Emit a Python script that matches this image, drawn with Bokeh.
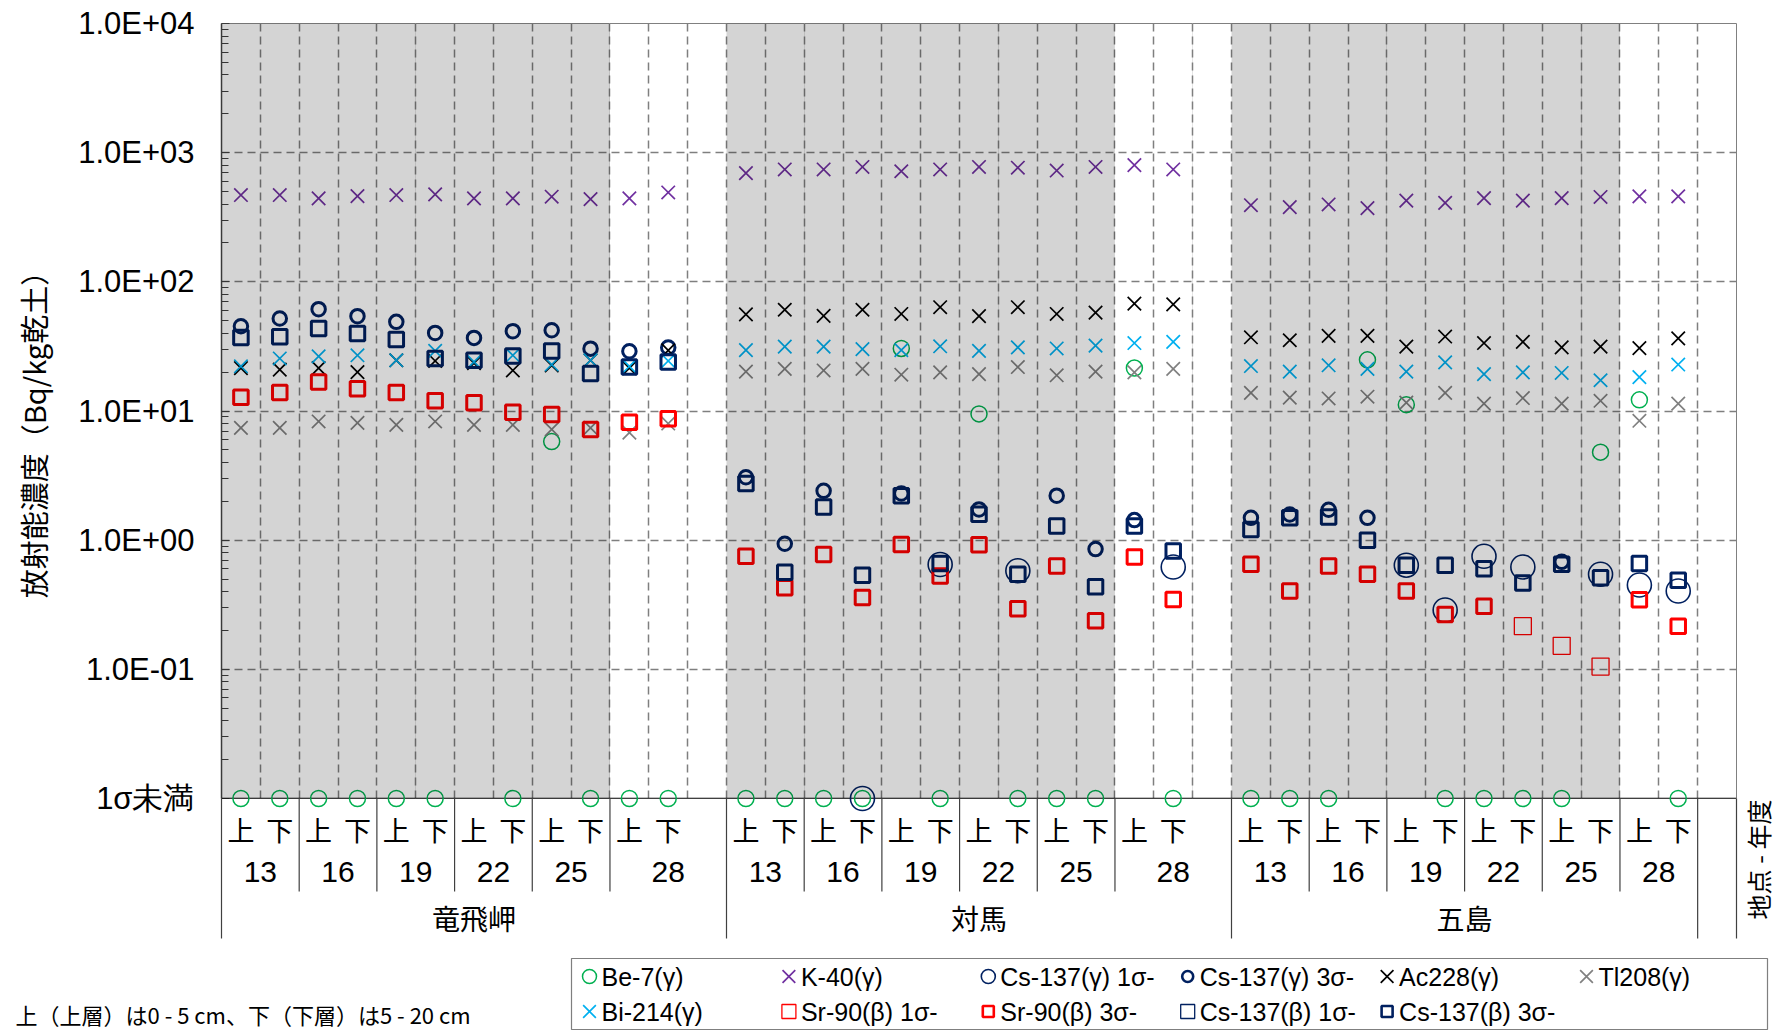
import math
from bokeh.plotting import figure
from bokeh.layouts import column
from bokeh.models import (Range1d, FixedTicker, CustomJSTickFormatter, Grid, Span, LinearScale)
from bokeh.core.properties import value
from bokeh.embed import file_html
from bokeh.resources import INLINE

ND = "ND"   # below 1 sigma -> drawn on the "1σ未満" row

locations = ["竜飛岬", "対馬", "五島"]
years = ["13", "16", "19", "22", "25", "28"]
layers = ["上", "下"]
shaded_years = ["13", "16", "19", "22", "25"]

# ---- values, 12 per location: 13上,13下,16上,16下,...,28上,28下 ----
be7_tappi = [ND, ND, ND, ND, ND, ND, None, ND, 5.8, ND, ND, ND]
be7_tsushima = [ND, ND, ND, ND, 30.5, ND, 9.5, ND, ND, ND, 21.5, ND]
be7_goto = [ND, ND, ND, 24.9, 11.2, ND, ND, ND, ND, 4.8, 12.2, ND]

k40_tappi = [470, 470, 443, 461, 470, 475, 443, 443, 456, 437, 443, 492]
k40_tsushima = [695, 741, 741, 775, 718, 741, 775, 765, 727, 775, 800, 741]
k40_goto = [392, 379, 397, 372, 425, 409, 445, 425, 445, 454, 459, 459]

csg1_tappi = [None] * 12
csg1_tsushima = [None, None, None, ND, None, 0.648, None, 0.58, None, None, None, 0.62]
csg1_goto = [None, None, None, None, 0.64, 0.288, 0.75, 0.62, None, 0.545, 0.45, 0.404]

csg3_tappi = [45.3, 52, 61.4, 54.2, 49, 40.2, 36.8, 41.5, 42.2, 30.4, 29, 31]
csg3_tsushima = [3.07, 0.938, 2.41, None, 2.3, None, 1.73, None, 2.21, 0.853, 1.43, None]
csg3_goto = [1.49, 1.58, 1.72, 1.49, None, None, None, None, 0.68, None, None, None]

ac228_tappi = [21.5, 20.9, 21.5, 20, 24.7, 24.4, 23.5, 20.6, 22.5, 24.7, 21.5, 29.5]
ac228_tsushima = [56, 60.8, 54.5, 60.8, 56.4, 63.6, 54.2, 63.6, 56.4, 57.8, 67.8, 66.9]
ac228_goto = [37.2, 35.3, 38.2, 38.2, 31.5, 37.7, 33.6, 34.3, 31.1, 31.5, 30.7, 36.5]

tl208_tappi = [7.4, 7.4, 8.3, 8.1, 7.8, 8.3, 7.8, 7.8, 7.2, 7.4, 6.8, 8.0]
tl208_tsushima = [20.2, 21.2, 20.6, 21.2, 19.1, 19.9, 19.3, 21.9, 18.9, 20.2, 19.9, 21.2]
tl208_goto = [13.8, 12.7, 12.5, 12.9, 11.6, 13.8, 11.4, 12.6, 11.4, 12.0, 8.4, 11.4]

bi214_tappi = [22.2, 25.5, 26.5, 27, 24.7, 29.2, 24, 27, 22.9, 24.7, 22.2, 24.4]
bi214_tsushima = [29.6, 31.5, 31.5, 30.1, 29.6, 31.7, 29.2, 31.1, 30.5, 32.1, 33.6, 34.3]
bi214_goto = [22.3, 20.2, 22.6, 21.2, 20.2, 23.8, 19.3, 19.9, 19.7, 17.3, 18.3, 22.9]

sr1_tappi = [None] * 12
sr1_tsushima = [None] * 12
sr1_goto = [None, None, None, None, None, None, None, 0.216, 0.152, 0.105, None, None]

sr3_tappi = [12.8, 13.9, 16.8, 14.9, 13.9, 12, 11.6, 9.8, 9.4, 7.2, 8.2, 8.7]
sr3_tsushima = [0.75, 0.428, 0.775, 0.36, 0.926, 0.528, 0.92, 0.294, 0.632, 0.238, 0.741, 0.348]
sr3_goto = [0.652, 0.404, 0.632, 0.545, 0.404, 0.266, 0.308, None, None, None, 0.345, 0.216]

csb1_tappi = [None] * 12
csb1_tsushima = [None] * 12
csb1_goto = [None] * 12

csb3_tappi = [37, 37.5, 43.5, 39.8, 35.7, 25.5, 24.7, 26.7, 29.2, 19.5, 21.9, 24]
csb3_tsushima = [2.74, 0.564, 1.81, 0.535, 2.21, 0.66, 1.59, 0.545, 1.29, 0.436, 1.29, 0.826]
csb3_goto = [1.21, 1.49, 1.51, 1.0, 0.64, 0.64, 0.60, 0.465, 0.65, 0.512, 0.66, 0.49]

y_ticks = [1e-2, 1e-1, 1e0, 1e1, 1e2, 1e3, 1e4]
BELOW_POS = 1e-2   # position of the "1σ未満" row

# ---- category slots: 竜飛岬 and 対馬 have an empty slot after 28, plus one empty slot at the end
columns = []
for li, loc in enumerate(locations):
    for yr in years:
        for lay in layers:
            columns.append((loc, yr, lay))
    if li < len(locations) - 1:
        columns.append((loc, "28", ""))
columns.append(("", "", ""))
NCOL = len(columns)
data_slots = [i for i, c in enumerate(columns) if c[2]]


def full(a, b, c):
    vals = a + b + c
    out = [None] * NCOL
    for slot, v in zip(data_slots, vals):
        out[slot] = v
    return out


# name, values, marker, size, colour, line width, legend size
series = [
    ("Be-7(γ)", full(be7_tappi, be7_tsushima, be7_goto), "circle", 16, "#00B050", 1.5, 14),
    ("K-40(γ)", full(k40_tappi, k40_tsushima, k40_goto), "x", 19, "#7030A0", 1.7, 18),
    ("Cs-137(γ) 1σ-", full(csg1_tappi, csg1_tsushima, csg1_goto), "circle", 24, "#002060", 1.6, 14),
    ("Cs-137(γ) 3σ-", full(csg3_tappi, csg3_tsushima, csg3_goto), "circle", 13.5, "#002060", 3, 11),
    ("Ac228(γ)", full(ac228_tappi, ac228_tsushima, ac228_goto), "x", 19, "#000000", 1.7, 18),
    ("Tl208(γ)", full(tl208_tappi, tl208_tsushima, tl208_goto), "x", 19, "#808080", 1.7, 18),
    ("Bi-214(γ)", full(bi214_tappi, bi214_tsushima, bi214_goto), "x", 19, "#00B0F0", 1.7, 18),
    ("Sr-90(β) 1σ-", full(sr1_tappi, sr1_tsushima, sr1_goto), "square", 17, "#FF0000", 1.3, 14),
    ("Sr-90(β) 3σ-", full(sr3_tappi, sr3_tsushima, sr3_goto), "square", 14.5, "#FF0000", 3, 11),
    ("Cs-137(β) 1σ-", full(csb1_tappi, csb1_tsushima, csb1_goto), "square", 17, "#002060", 1.3, 14),
    ("Cs-137(β) 3σ-", full(csb3_tappi, csb3_tsushima, csb3_goto), "square", 14.5, "#002060", 3, 11),
]

FRAME_W, FRAME_H = 1515, 775
W, H1, H2 = 1776, 955, 79
LEFT, TOP = 221, 23
RIGHT = W - LEFT - FRAME_W
p = figure(width=W, height=H1, x_range=Range1d(0, NCOL), y_range=Range1d(y_ticks[0], y_ticks[-1]),
           y_axis_type="log", x_axis_location=None, output_backend="svg", toolbar_location=None,
           min_border_left=LEFT, min_border_right=RIGHT,
           min_border_top=TOP, min_border_bottom=H1 - TOP - FRAME_H)
# pixel-based helper ranges (relative to the frame's bottom-left corner) for the texts outside the frame
p.extra_y_ranges = {"px": Range1d(0, FRAME_H)}
p.extra_y_scales = {"px": LinearScale()}
p.extra_x_ranges = {"pxx": Range1d(0, FRAME_W)}
p.extra_x_scales = {"pxx": LinearScale()}
p.background_fill_color = "white"
p.border_fill_color = "white"
p.outline_line_color = "#808080"
p.outline_line_width = 1

# y axis
yax = p.yaxis[0]
minors = [k * 10 ** e for e in range(-2, 4) for k in range(2, 10)]
yax.ticker = FixedTicker(ticks=y_ticks, minor_ticks=minors)
yax.formatter = CustomJSTickFormatter(code="""
const e = Math.round(Math.log10(tick));
if (e <= -2) { return '1σ未満'; }
const s = String(Math.abs(e)).padStart(2, '0');
return '1.0E' + (e < 0 ? '-' : '+') + s;
""")
yax.major_label_text_font = "Liberation Sans"
yax.major_label_text_font_size = "31px"
yax.major_label_text_color = "black"
yax.major_label_standoff = 27
yax.major_tick_in = 8
yax.major_tick_out = 0
yax.minor_tick_in = 7
yax.minor_tick_out = 0
yax.axis_line_color = "#404040"
yax.axis_line_width = 1.5
yax.major_tick_line_color = "#404040"
yax.minor_tick_line_color = "#404040"

p.ygrid.ticker = FixedTicker(ticks=y_ticks[1:])
p.ygrid.grid_line_color = "#7F7F7F"
p.ygrid.grid_line_dash = "8 5"
p.ygrid.grid_line_width = 1.5
p.add_layout(Grid(dimension=0, ticker=FixedTicker(ticks=list(range(1, NCOL))),
                  grid_line_color="#7F7F7F", grid_line_dash="8 5", grid_line_width=1.5))

# bottom axis line
p.add_layout(Span(location=BELOW_POS, dimension="width", line_color="black", line_width=1.5))

# data markers
for name, vals, marker, size, color, lw, lsize in series:
    xs, ys = [], []
    for i, v in enumerate(vals):
        if v is None:
            continue
        xs.append(i + 0.5)
        ys.append(BELOW_POS if v == ND else v)
    p.scatter(x=xs, y=ys, marker=marker, size=size, fill_color=None, line_color=color,
              line_width=lw, level="overlay")

# gray bands (years 13-25 of each location), drawn over the markers
band_l, band_r = [], []
for i, (loc, yr, lay) in enumerate(columns):
    if yr in shaded_years:
        if band_r and band_r[-1] == i:
            band_r[-1] = i + 1
        else:
            band_l.append(i)
            band_r.append(i + 1)
p.quad(left=band_l, right=band_r, bottom=y_ticks[0], top=y_ticks[-1], fill_color="black",
       fill_alpha=0.17, line_color=None, level="overlay")

# ---- multi-level category axis ----
year_groups, loc_groups = [], []
for i, (loc, yr, lay) in enumerate(columns):
    if not loc:
        continue
    if year_groups and year_groups[-1][0] == loc and year_groups[-1][1] == yr:
        year_groups[-1][3] = i + 1
    else:
        year_groups.append([loc, yr, i, i + 1])
    if loc_groups and loc_groups[-1][0] == loc:
        loc_groups[-1][2] = i + 1
    else:
        loc_groups.append([loc, i, i + 1])

loc_lines = sorted(set([g[1] for g in loc_groups] + [g[2] for g in loc_groups] + [NCOL]))
year_lines = sorted(set(g[2] for g in year_groups) - set(loc_lines))

p.segment(x0=year_lines, y0=[0] * len(year_lines), x1=year_lines, y1=[-93] * len(year_lines),
          y_range_name="px", line_color="#404040", line_width=1.2, level="overlay")
p.segment(x0=loc_lines, y0=[0] * len(loc_lines), x1=loc_lines, y1=[-140] * len(loc_lines),
          y_range_name="px", line_color="#404040", line_width=1.2, level="overlay")


def txt(fig, x, y, t, font, size, align="center", angle=0.0, **kw):
    fig.text(x=x, y=y, text=t, text_font=value(font), text_font_size=size, text_color="black",
             text_align=align, text_baseline="middle", angle=angle, level="overlay", **kw)


txt(p, [i + 0.5 for i in data_slots], [-31] * len(data_slots), [columns[i][2] for i in data_slots],
    "Noto Sans CJK JP", "27px", y_range_name="px")
txt(p, [(g[2] + g[3]) / 2 for g in year_groups], [-73] * len(year_groups), [g[1] for g in year_groups],
    "Liberation Sans", "30px", y_range_name="px")
txt(p, [(g[1] + g[2]) / 2 for g in loc_groups], [-119] * len(loc_groups), [g[0] for g in loc_groups],
    "Noto Sans CJK JP", "28px", y_range_name="px")

# axis titles
txt(p, [-189], [371], ["放射能濃度（Bq/kg乾土）"], "Noto Sans CJK JP", "29px",
    angle=math.pi / 2, x_range_name="pxx", y_range_name="px")
txt(p, [1536], [-61], ["地点 - 年度"], "Noto Sans CJK JP", "25px",
    angle=math.pi / 2, x_range_name="pxx", y_range_name="px")

# ---- lower strip: note and legend (2 rows x 6 columns, boxed); x in page pixels ----
p2 = figure(width=W, height=H2, x_range=Range1d(LEFT, LEFT + FRAME_W), y_range=Range1d(0, H2),
            x_axis_location=None, y_axis_location=None, output_backend="svg", toolbar_location=None,
            min_border_left=LEFT, min_border_right=RIGHT, min_border_top=0, min_border_bottom=0)
p2.outline_line_color = None
p2.background_fill_color = "white"
p2.border_fill_color = "white"
p2.xgrid.visible = False
p2.ygrid.visible = False

txt(p2, [15], [21], ["上（上層）は0 - 5 cm、下（下層）は5 - 20 cm"], "Noto Sans CJK JP", "22px", align="left")

LEG_L, LEG_R, LEG_T, LEG_B = 571, 1767, 76, 5
p2.quad(left=[LEG_L], right=[LEG_R], top=[LEG_T], bottom=[LEG_B],
        fill_color="white", line_color="#7F7F7F", line_width=1.2, level="overlay")
for k, (name, vals, marker, size, color, lw, lsize) in enumerate(series):
    row, col = divmod(k, 6)
    lx = LEG_L + 18 + col * 199.4
    ly = 58 - row * 35
    p2.scatter(x=[lx], y=[ly], marker=marker, size=lsize, fill_color=None, line_color=color,
               line_width=min(lw, 2.6), level="overlay")
    txt(p2, [lx + 12], [ly], [name], "Liberation Sans", "25px", align="left")

open("out.html", "w", encoding="utf-8").write(file_html(column(p, p2, spacing=0), INLINE))
